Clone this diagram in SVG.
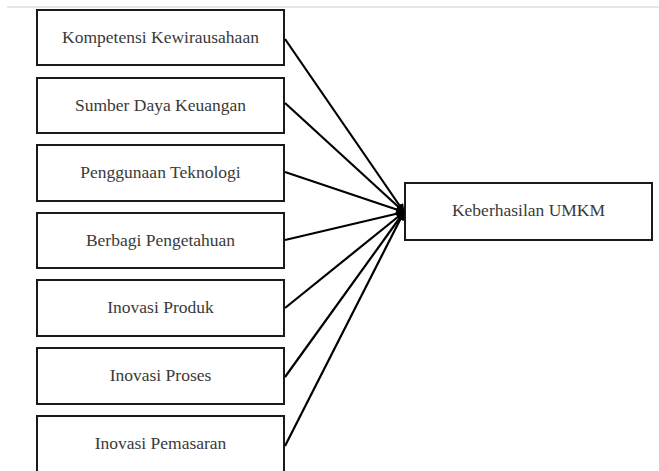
<svg xmlns="http://www.w3.org/2000/svg" width="659" height="471" viewBox="0 0 659 471">
<style>
.box{fill:#fff;stroke:#1a1a1a;stroke-width:2}
text{font-family:'Liberation Serif','Times New Roman',Times,serif;font-size:17.5px;fill:#3a3a3a;text-anchor:middle}
.con{stroke:#000;stroke-width:2.2;fill:none;marker-end:url(#ah)}
</style>
<defs>
<marker id="ah" viewBox="0 0 10 10" refX="9" refY="5" markerWidth="4" markerHeight="4" orient="auto" markerUnits="strokeWidth">
<path d="M0,0 L10,5 L0,10 z" fill="#000"/>
</marker>
</defs>
<rect x="0" y="0" width="659" height="471" fill="#fff"/>
<line x1="7" y1="7" x2="659" y2="7" stroke="#e6e6e6" stroke-width="2"/>
<g id="n1"><rect class="box" x="37" y="10" width="247" height="55"/><text x="160.5" y="43" font-family="Liberation Serif, serif">Kompetensi Kewirausahaan</text></g>
<g id="n2"><rect class="box" x="37" y="78" width="247" height="55"/><text x="160.5" y="111" font-family="Liberation Serif, serif">Sumber Daya Keuangan</text></g>
<g id="n3"><rect class="box" x="37" y="145" width="247" height="56"/><text x="160.5" y="178" font-family="Liberation Serif, serif">Penggunaan Teknologi</text></g>
<g id="n4"><rect class="box" x="37" y="213" width="247" height="55"/><text x="160.5" y="246" font-family="Liberation Serif, serif">Berbagi Pengetahuan</text></g>
<g id="n5"><rect class="box" x="37" y="280" width="247" height="56"/><text x="160.5" y="313" font-family="Liberation Serif, serif">Inovasi Produk</text></g>
<g id="n6"><rect class="box" x="37" y="348" width="247" height="56"/><text x="160.5" y="381" font-family="Liberation Serif, serif">Inovasi Proses</text></g>
<g id="n7"><rect class="box" x="37" y="416" width="247" height="57"/><text x="160.5" y="449" font-family="Liberation Serif, serif">Inovasi Pemasaran</text></g>
<g id="target"><rect class="box" x="405" y="183" width="247" height="57"/><text x="528.5" y="216" font-family="Liberation Serif, serif">Keberhasilan UMKM</text></g>
<g id="connectors">
<line class="con" x1="285" y1="39" x2="404" y2="212"/>
<line class="con" x1="285" y1="103" x2="404" y2="212"/>
<line class="con" x1="285" y1="172" x2="404" y2="212"/>
<line class="con" x1="285" y1="240" x2="404" y2="212"/>
<line class="con" x1="285" y1="308" x2="404" y2="212"/>
<line class="con" x1="285" y1="377" x2="404" y2="212"/>
<line class="con" x1="285" y1="446" x2="404" y2="212"/>
</g>
</svg>
